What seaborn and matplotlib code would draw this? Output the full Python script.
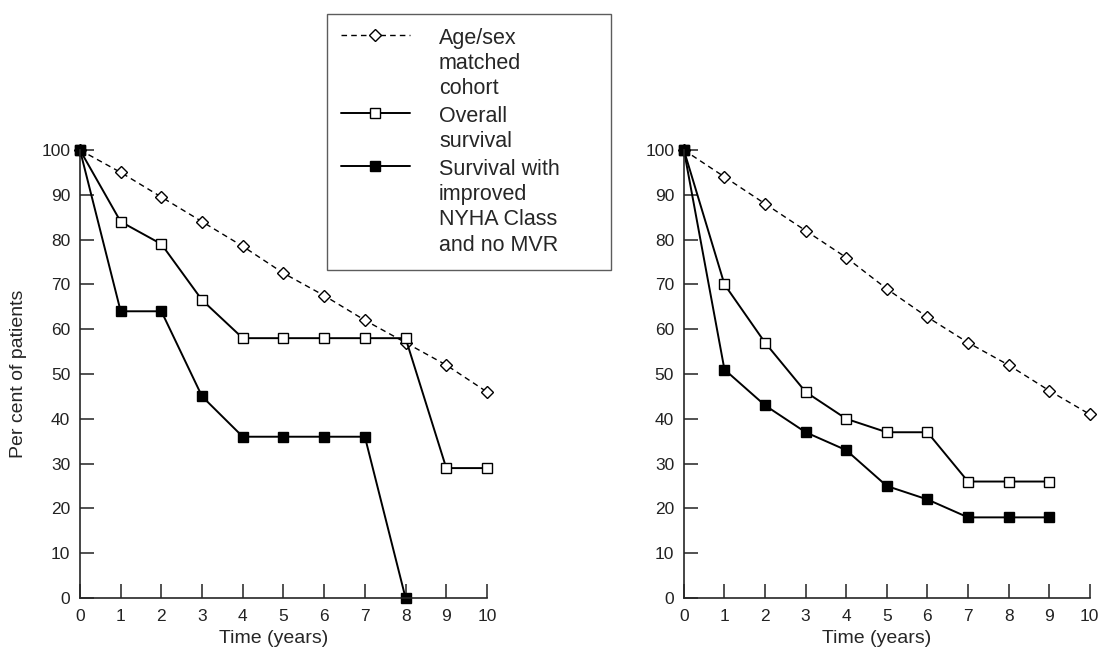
import matplotlib
matplotlib.use("Agg")
import matplotlib.pyplot as plt
import seaborn as sns
import pandas as pd

# Data
years = list(range(0, 11))

left_cohort = [100, 95, 89.5, 84, 78.5, 72.5, 67.5, 62, 57, 52, 46]
left_overall = [100, 84, 79, 66.5, 58, 58, 58, 58, 58, 29, 29]
left_improved = [100, 64, 64, 45, 36, 36, 36, 36, 0]

right_cohort = [100, 94, 88, 82, 76, 69, 62.7, 57, 52, 46.3, 41]
right_overall = [100, 70, 57, 46, 40, 37, 37, 26, 26, 26]
right_improved = [100, 51, 43, 37, 33, 25, 22, 18, 18, 18]

labels = ["Age/sex\nmatched\ncohort",
          "Overall\nsurvival",
          "Survival with\nimproved\nNYHA Class\nand no MVR"]
y_ticks = list(range(0, 101, 10))

sns.set_style("ticks")
plt.rcParams['font.family'] = ['Liberation Sans', 'DejaVu Sans']


def draw_panel(ax, cohort, overall, improved):
    styles = [
        (cohort, dict(marker="D", markersize=6.5, markerfacecolor="white",
                      linestyle=(0, (4, 3)), linewidth=1.0)),
        (overall, dict(marker="s", markersize=7.5, markerfacecolor="white",
                       linestyle="-", linewidth=1.4)),
        (improved, dict(marker="s", markersize=7.5, markerfacecolor="black",
                        linestyle="-", linewidth=1.4)),
    ]
    for (vals, kw), lab in zip(styles, labels):
        df = pd.DataFrame({"x": years[:len(vals)], "y": vals})
        sns.lineplot(data=df, x="x", y="y", ax=ax, color="black",
                     markeredgecolor="black", markeredgewidth=1.0,
                     clip_on=False, label=lab, legend=False, **kw)

    ax.set_xlim(0, 10)
    ax.set_ylim(0, 100)
    ax.set_xticks(years)
    ax.set_yticks(y_ticks)
    ax.tick_params(axis="both", direction="in", length=10, width=1.1,
                   labelsize=12.5, colors="#222222")
    ax.tick_params(axis="x", pad=8)
    ax.tick_params(axis="y", pad=7)
    sns.despine(ax=ax)
    for s in ["left", "bottom"]:
        ax.spines[s].set_linewidth(1.2)
    ax.set_xlabel("Time (years)", fontsize=14, labelpad=3)
    ax.xaxis.set_label_coords(0.475, -0.072)
    ax.set_ylabel("")


fig = plt.figure(figsize=(11.03, 6.55), dpi=100)
ax1 = fig.add_axes([0.0725, 0.087, 0.369, 0.684])
ax2 = fig.add_axes([0.620, 0.087, 0.368, 0.684])

draw_panel(ax1, left_cohort, left_overall, left_improved)
draw_panel(ax2, right_cohort, right_overall, right_improved)
ax1.set_ylabel("Per cent of patients", fontsize=14, labelpad=10)

handles, labs = ax1.get_legend_handles_labels()
leg = fig.legend(handles, labs, loc="upper left",
                 bbox_to_anchor=(0.2965, 0.592, 0.2575, 0.387), mode="expand",
                 fontsize=15.5, frameon=True, fancybox=False,
                 edgecolor="#333333", handlelength=3.2, handletextpad=1.35,
                 labelspacing=0.3, borderpad=0.65, borderaxespad=0)
leg.get_frame().set_linewidth(1.0)
for t in leg.get_texts():
    t.set_linespacing(1.27)
# put each legend symbol level with the first line of its label
for col in leg._legend_handle_box.get_children():
    for item in col.get_children():
        item.align = "top"

fig.savefig("out.png", dpi=100, facecolor="white")
